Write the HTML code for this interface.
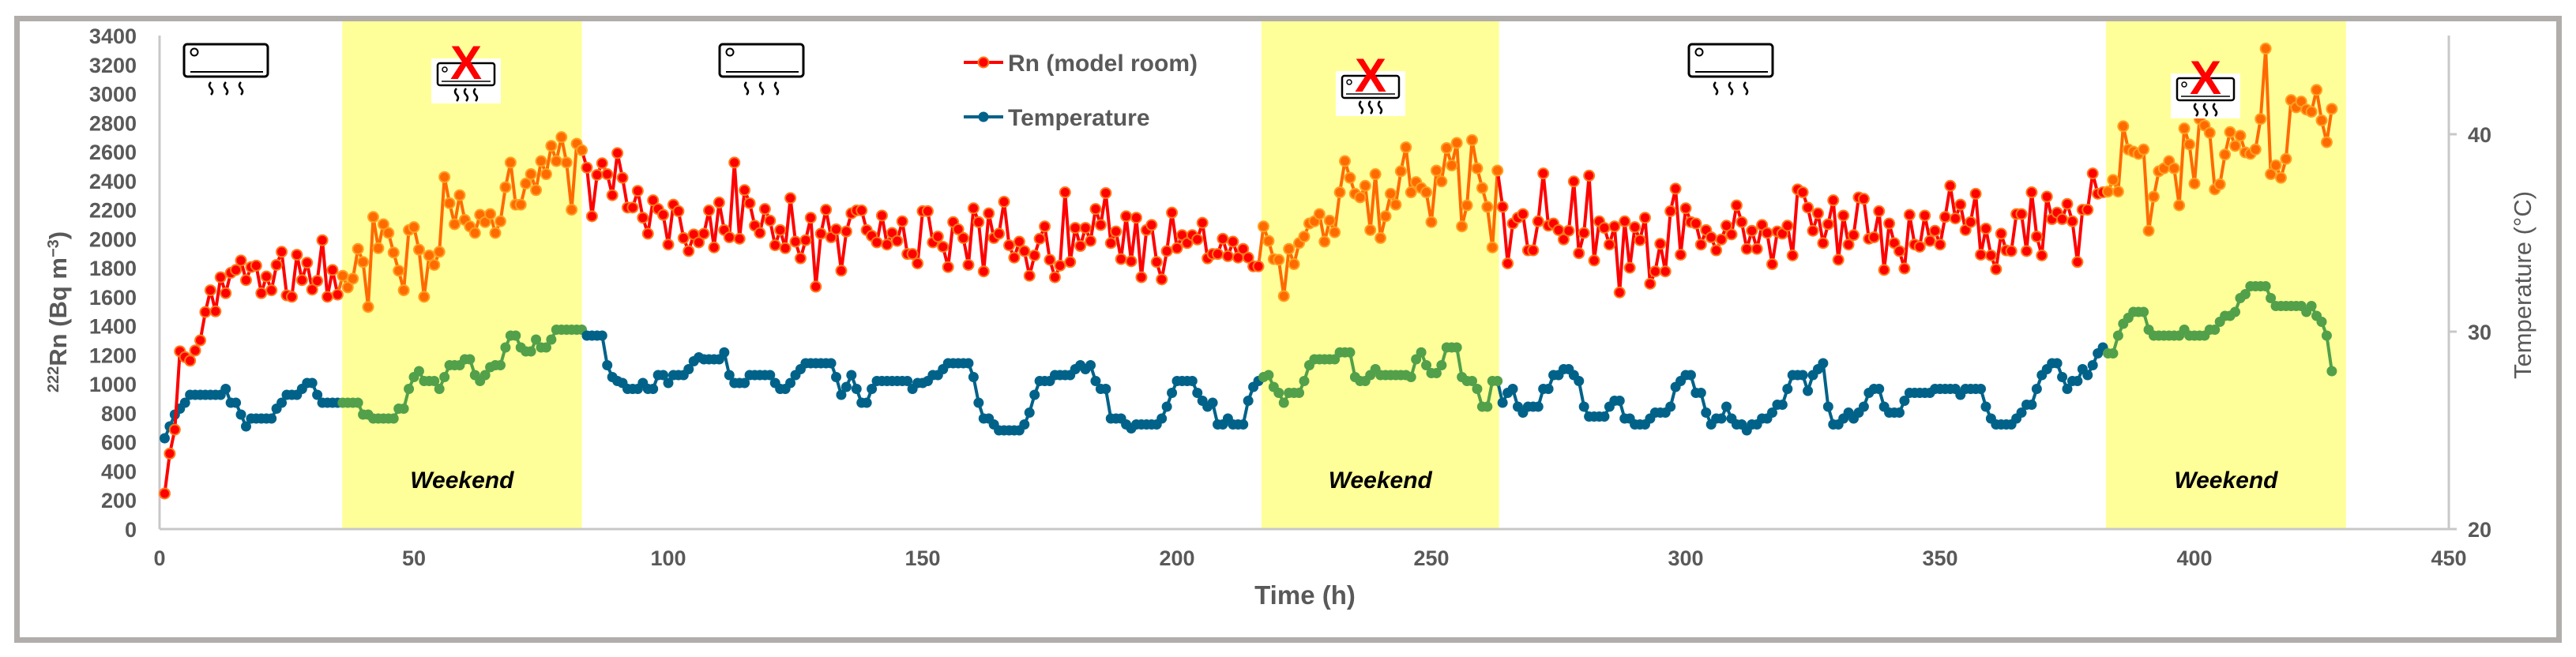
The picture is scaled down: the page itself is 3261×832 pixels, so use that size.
<!DOCTYPE html>
<html><head><meta charset="utf-8">
<style>
html,body{margin:0;padding:0;background:#fff;}
svg{display:block;}
text{font-family:"Liberation Sans",sans-serif;}
</style></head>
<body>
<svg id="chart" width="3261" height="832" viewBox="0 0 3261 832" xmlns="http://www.w3.org/2000/svg">
<rect x="21.5" y="23.5" width="3218" height="787" fill="#fff" stroke="#b1adab" stroke-width="7"/>
<g id="bands"></g>
<g id="axes"></g>
<g id="series"></g>
<g id="icons"></g>
<g>
  <g>
    <line x1="1220" y1="79" x2="1270" y2="79" stroke="#ff0000" stroke-width="4"/>
    <circle cx="1245" cy="79" r="6.5" fill="#ff0000" stroke="#ff7a1a" stroke-width="2"/>
    <text x="1276" y="90" font-size="30" font-weight="bold" fill="#595959">Rn (model room)</text>
  </g>
  <g>
    <line x1="1220" y1="148" x2="1270" y2="148" stroke="#006289" stroke-width="4"/>
    <circle cx="1245" cy="148" r="6.5" fill="#006289"/>
    <text x="1276" y="159" font-size="30" font-weight="bold" fill="#595959">Temperature</text>
  </g>
</g>
<text x="1652" y="765" font-size="33" font-weight="bold" fill="#595959" text-anchor="middle">Time (h)</text>
<text transform="translate(84,395) rotate(-90)" font-size="31" font-weight="bold" fill="#595959" text-anchor="middle"><tspan font-size="20" dy="-10">222</tspan><tspan dy="10">Rn (Bq m</tspan><tspan font-size="20" dy="-10">−3</tspan><tspan dy="10">)</tspan></text>
<text transform="translate(3204,361) rotate(-90)" font-size="31" fill="#595959" text-anchor="middle">Temperature (°C)</text>
</svg>
<script>
const rnValues = [245,520,685,1225,1185,1160,1230,1300,1495,1645,
1500,1735,1625,1765,1785,1850,1715,1805,1815,1625,
1740,1645,1820,1910,1610,1600,1890,1715,1835,1650,
1710,1990,1600,1785,1615,1745,1665,1725,1930,1840,
1530,2150,1935,2100,2040,1905,1780,1645,2060,2080,
1925,1600,1885,1820,1910,2425,2245,2100,2300,2130,
2085,2040,2165,2115,2170,2040,2120,2355,2525,2235,
2235,2380,2445,2335,2535,2445,2640,2535,2700,2525,
2200,2655,2610,
2490,2155,2440,2520,2445,2300,2590,2420,2215,
2215,2330,2145,2035,2265,2205,2165,1960,2235,2190,
2005,1915,2030,1975,2035,2195,1940,2250,2060,2010,
2525,2000,2335,2245,2090,2040,2205,2125,1955,2060,
1935,2280,1980,1865,1990,2145,1670,2035,2200,2010,
2065,1780,2050,2175,2195,2195,2060,2020,1975,2160,
1960,2040,1985,2120,1895,1895,1830,2190,2190,1975,
2015,1945,1805,2115,2065,2005,1820,2210,2115,1775,
2175,2005,2035,2255,1955,1870,1980,1915,1745,1885,
2000,2085,1855,1735,1815,2320,1840,2075,1950,2075,
1985,
2205,2095,2315,1970,2050,1860,2155,1845,2145,1735,
2060,2095,1840,1720,1915,2180,1935,2025,1970,2025,
1995,2110,1865,1895,1895,2000,1880,1980,1870,1930,
1870,1810,1810,2085,1985,1860,1855,1605,1930,1825,
1970,2015,2105,2120,2170,1980,2125,2045,2320,2535,
2420,2310,2285,2365,2060,2445,2005,2155,2310,2235,
2465,2630,2320,2390,2350,2320,2115,2470,2395,2625,
2505,2660,2085,2230,2680,2485,2350,2220,1940,2470,
2220,1830,2105,2145,2170,1920,1920,2120,2450,2090,
2105,2060,1995,2055,2395,1900,2040,
2435,1850,2120,2075,1960,2085,1630,2120,1800,2080,
1990,2145,1690,1775,1965,1775,2190,2345,1890,2210,
2115,2105,1960,2060,2010,1920,1995,2090,2030,2230,
2115,1930,2055,1930,2095,2040,1825,2050,2035,2090,
1885,2340,2320,2215,2055,2175,1970,2100,2265,1855,
2160,1960,2025,2285,2275,2000,2010,2190,1785,2105,
1970,1915,1795,2165,1960,1945,2160,1985,2055,1960,
2150,2365,2140,2235,2060,2115,2310,1890,2070,1885,
1790,2035,1920,1915,2170,2170,1915,2320,2015,1885,
2290,2135,2180,2135,2240,2120,1840,2200,
2200,2450,2310,
2320,2325,2405,2325,2775,2615,2600,2585,2615,2055,
2290,2465,2485,2535,2485,2230,2760,2650,2380,2825,
2780,2730,2340,2375,2580,2735,2640,2710,2595,2585,
2615,2825,3310,2445,2505,2420,2550,2955,2905,2945,
2890,2875,3025,2815,2665,2895];

const tempValues = [24.6,25.2,25.8,26.1,26.4,26.8,26.8,26.8,26.8,26.8,
26.8,26.8,27.1,26.4,26.4,25.8,25.2,25.6,25.6,25.6,
25.6,25.6,26.1,26.4,26.8,26.8,26.8,27.1,27.4,27.4,
26.8,26.4,26.4,26.4,26.4,26.4,26.4,26.4,26.4,25.8,
25.8,25.6,25.6,25.6,25.6,25.6,26.1,26.1,27.1,27.7,
28.0,27.5,27.5,27.5,27.1,27.7,28.3,28.3,28.3,28.6,
28.6,27.8,27.5,27.8,28.2,28.3,28.3,29.2,29.8,29.8,
29.2,29.0,29.0,29.6,29.2,29.2,29.6,30.1,30.1,30.1,
30.1,30.1,30.1,29.8,29.8,29.8,29.8,28.3,
27.7,27.5,27.4,27.1,27.1,27.1,27.4,27.1,27.1,27.8,
27.8,27.4,27.8,27.8,27.8,28.1,28.5,28.7,28.6,28.6,
28.6,28.6,28.95,27.8,27.4,27.4,27.4,27.8,27.8,27.8,
27.8,27.8,27.4,27.1,27.1,27.4,27.8,28.1,28.4,28.4,
28.4,28.4,28.4,28.4,27.7,26.8,27.2,27.8,27.1,26.4,
26.4,27.1,27.5,27.5,27.5,27.5,27.5,27.5,27.5,27.1,
27.4,27.4,27.5,27.8,27.8,28.1,28.4,28.4,28.4,28.4,
28.4,27.7,26.4,25.6,25.6,25.3,25.0,25.0,25.0,25.0,
25.0,25.3,25.9,26.8,27.5,27.5,27.5,27.8,27.8,27.8,
27.8,28.1,28.3,
28.1,28.3,27.5,27.1,27.1,25.6,25.6,25.6,25.3,25.1,
25.3,25.3,25.3,25.3,25.3,25.6,26.2,26.9,27.5,27.5,
27.5,27.5,26.9,26.5,26.2,26.4,25.3,25.3,25.6,25.3,
25.3,25.3,26.5,27.2,27.5,27.7,27.8,27.2,26.9,26.4,
26.9,26.9,26.9,27.5,28.3,28.6,28.6,28.6,28.6,28.6,
28.95,28.95,28.95,27.7,27.5,27.5,27.8,28.1,27.8,27.8,
27.8,27.8,27.8,27.8,27.7,28.6,28.95,28.3,27.9,27.9,
28.3,29.2,29.2,29.2,27.7,27.5,27.5,27.1,26.2,26.2,
27.5,27.5,26.4,26.9,27.1,26.2,25.9,26.2,26.2,26.2,
27.1,27.1,27.8,27.8,28.1,28.1,27.8,27.5,26.2,
25.7,25.7,25.7,25.7,26.2,26.5,26.5,25.6,25.6,25.3,
25.3,25.3,25.6,25.9,25.9,25.9,26.2,27.2,27.5,27.8,
27.8,26.9,26.9,25.9,25.3,25.6,25.6,26.2,25.6,25.3,
25.3,25.0,25.3,25.3,25.6,25.6,25.9,26.3,26.3,27.1,
27.8,27.8,27.8,27.0,27.8,28.1,28.4,26.2,25.3,25.3,
25.6,25.9,25.6,25.9,26.2,26.9,27.1,27.1,26.2,25.9,
25.9,25.9,26.5,26.9,26.9,26.9,26.9,26.9,27.1,27.1,
27.1,27.1,27.1,26.8,27.1,27.1,27.1,27.1,26.2,25.6,
25.3,25.3,25.3,25.3,25.6,25.9,26.3,26.3,27.1,27.8,
28.1,28.4,28.4,27.7,27.1,27.5,27.5,28.1,
27.8,28.3,28.9,29.2,28.9,28.9,29.8,30.4,30.7,31.0,
31.0,31.0,30.1,29.8,29.8,29.8,29.8,29.8,29.8,30.1,
29.8,29.8,29.8,29.8,30.1,30.1,30.5,30.8,30.8,31.0,
31.7,31.9,32.3,32.3,32.3,32.3,31.7,31.3,31.3,31.3,
31.3,31.3,31.3,31.0,31.3,30.8,30.5,29.8,28.0];

const weekendStarts = [35.9, 216.6, 382.6];
const weekendEnds = [83.0, 263.3, 429.8];
const xTicks = [0,50,100,150,200,250,300,350,400,450];
const yLeftTicks = [0,200,400,600,800,1000,1200,1400,1600,1800,2000,2200,2400,2600,2800,3000,3200,3400];
const yRightTicks = [20,30,40];

const NS = "http://www.w3.org/2000/svg";
const X0 = 202, X1 = 3100, Y0 = 670, Y1 = 45;
function xs(h){ return X0 + (h/450)*(X1-X0); }
function yl(v){ return Y0 - (v/3400)*(Y0-Y1); }
function yr(t){ return Y0 - ((t-20)/25)*(Y0-Y1); }
function mk(tag, attrs, parent){ const e=document.createElementNS(NS,tag); for(const k in attrs) e.setAttribute(k,attrs[k]); parent.appendChild(e); return e; }
function inWeekend(h){ for(let i=0;i<weekendStarts.length;i++){ if(h>=weekendStarts[i] && h<=weekendEnds[i]) return true; } return false; }

const bands = document.getElementById('bands');
for (let i=0;i<weekendStarts.length;i++){
  const r = mk('rect',{x:xs(weekendStarts[i]),y:27,width:xs(weekendEnds[i])-xs(weekendStarts[i]),height:Y0-27,fill:'#ffff99'},bands);
  
  
  const t = mk('text',{x:(xs(weekendStarts[i])+xs(weekendEnds[i]))/2,y:618,'font-size':30,'font-weight':'bold','font-style':'italic','text-anchor':'middle',fill:'#000'},bands);
  t.textContent='Weekend';
  
  
}

const axes = document.getElementById('axes');
mk('line',{x1:X0,y1:Y0,x2:X1,y2:Y0,stroke:'#c8c8c8','stroke-width':3},axes);
mk('line',{x1:X0,y1:Y1,x2:X0,y2:Y0,stroke:'#c8c8c8','stroke-width':3},axes);
mk('line',{x1:X1,y1:Y1,x2:X1,y2:Y0,stroke:'#c8c8c8','stroke-width':3},axes);
xTicks.forEach(v=>{
  const t=mk('text',{x:xs(v),y:716,'font-size':27,'font-weight':'bold','text-anchor':'middle',fill:'#595959'},axes);
  t.textContent=v;
  
  
});
yLeftTicks.forEach(v=>{
  const t=mk('text',{x:173,y:yl(v)+10,'font-size':27,'font-weight':'bold','text-anchor':'end',fill:'#595959'},axes);
  t.textContent=v;
  
  
});
yRightTicks.forEach(v=>{
  mk('line',{x1:X1,y1:yr(v),x2:X1+10,y2:yr(v),stroke:'#c8c8c8','stroke-width':3},axes);
  const t=mk('text',{x:3124,y:yr(v)+10,'font-size':27,'font-weight':'bold',fill:'#595959'},axes);
  t.textContent=v;
  
  
});

const series = document.getElementById('series');
function drawSeries(vals, yf, cNorm, cWk, sNorm, sWk, name){
  const g = mk('g',{},series);
  
  
  for(let i=1;i<vals.length;i++){
    const h=i+1, wk=inWeekend(h);
    mk('line',{x1:xs(i),y1:yf(vals[i-1]),x2:xs(h),y2:yf(vals[i]),stroke:wk?cWk:cNorm,'stroke-width':4,'stroke-linecap':'round'},g);
  }
  for(let i=0;i<vals.length;i++){
    const h=i+1, wk=inWeekend(h);
    const attrs={cx:xs(h),cy:yf(vals[i]),r:6.5,fill:wk?cWk:cNorm};
    const s = wk?sWk:sNorm;
    if(s){ attrs.stroke=s; attrs['stroke-width']=2; }
    const c=mk('circle',attrs,g);
    
    
  }
}
drawSeries(tempValues, yr, '#006289', '#52a04a', null, null, 'temperature');
drawSeries(rnValues, yl, '#ff0000', '#ff6a00', '#ff7a1a', '#ffa020', 'rn');

const icons = document.getElementById('icons');
function squiggles(g, cx, y, sp){
  for(let k=-1;k<=1;k++){
    const x=cx+k*sp;
    mk('path',{d:`M${x} ${y} q-4 4 0 8 q4 4 0 8`,fill:'none',stroke:'#000','stroke-width':2.5},g);
  }
}
function acOn(x){
  const g=mk('g',{},icons);
  
  
  mk('rect',{x:x,y:56,width:106,height:41,rx:4,fill:'#fff',stroke:'#000','stroke-width':3},g);
  mk('circle',{cx:x+13,cy:66,r:4.5,fill:'none',stroke:'#000','stroke-width':2},g);
  mk('line',{x1:x+8,y1:91,x2:x+100,y2:91,stroke:'#000','stroke-width':2},g);
  squiggles(g, x+53, 104, 19);
}
function acOff(cx, top){
  const g=mk('g',{},icons);
  
  
  mk('rect',{x:cx-44,y:top+20,width:88,height:57,fill:'#fff'},g);
  mk('rect',{x:cx-36,y:top+26,width:72,height:28,rx:3,fill:'#fff',stroke:'#000','stroke-width':2.5},g);
  mk('circle',{cx:cx-27,cy:top+34,r:3,fill:'none',stroke:'#000','stroke-width':1.5},g);
  mk('line',{x1:cx-31,y1:top+49,x2:cx+31,y2:top+49,stroke:'#000','stroke-width':1.5},g);
  squiggles(g, cx, top+58, 12);
  const t=mk('text',{x:cx,y:top+46,'font-size':60,'font-weight':'bold','text-anchor':'middle',fill:'#ff0000'},g);
  t.textContent='X';
}
acOn(233); acOn(911); acOn(2138);
acOff(590, 54); acOff(1735, 70); acOff(2792, 73);
</script>
</body></html>
